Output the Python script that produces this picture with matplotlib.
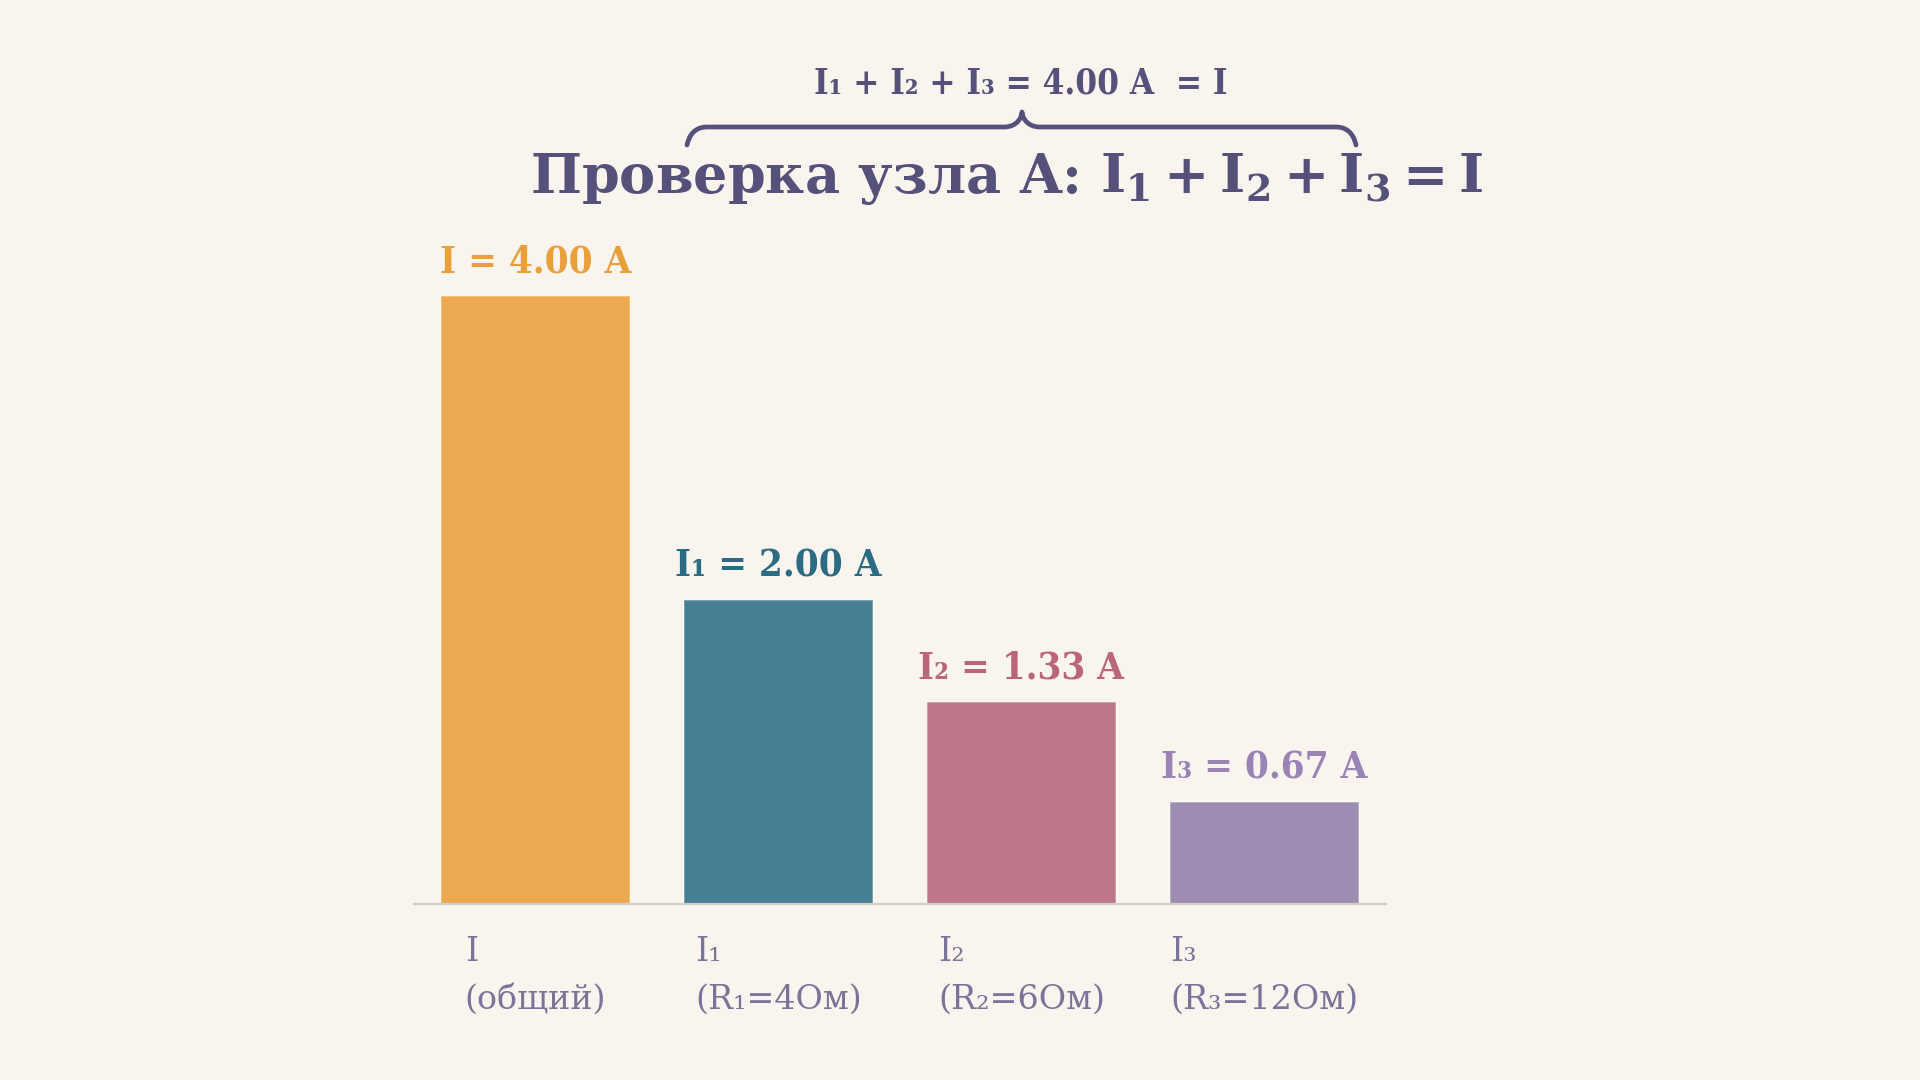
import numpy as np
import matplotlib
matplotlib.use("Agg")
import matplotlib.pyplot as plt
from matplotlib.path import Path
from matplotlib.patches import PathPatch

# данные: токи в ветвях узла A
names = ["I", "I₁", "I₂", "I₃"]
details = ["(общий)", "(R₁=4Ом)", "(R₂=6Ом)", "(R₃=12Ом)"]
currents = [4.00, 2.00, 1.33, 0.67]
bar_colors = ["#ECA94F", "#477E92", "#BE7789", "#9F8CB3"]
label_colors = ["#E9A03B", "#2C6B84", "#B9657C", "#9A83B5"]

title_color = "#55517A"
tick_color = "#7A7498"
bg = "#FAF4EE"

plt.rcParams["mathtext.fontset"] = "dejavuserif"


def main():
    fig = plt.figure(figsize=(19.2, 10.8), dpi=100, facecolor=bg)
    ax = fig.add_axes([0.2156, 0.16296, 0.50625, 0.6193])
    ax.set_facecolor(bg)

    x = np.arange(len(currents))
    ax.bar(x, currents, width=0.78, color=bar_colors,
           edgecolor=(1, 1, 1, 0.35), linewidth=1.2)
    ax.set_xlim(-0.5, 3.5)
    ax.set_ylim(0, 4.4)

    # подписи значений над столбцами
    for xi, v, n, c in zip(x, currents, names, label_colors):
        ax.annotate(f"{n} = {v:.2f} A", (xi, v), xytext=(0, 17),
                    textcoords="offset points", ha="center", va="baseline",
                    fontsize=27.5, fontweight="bold", color=c,
                    family="DejaVu Serif", fontstretch="condensed")

    ax.set_xticks(x)
    ax.set_xticklabels([f"{n}\n{d}" for n, d in zip(names, details)],
                       family="DejaVu Serif", fontsize=24, color=tick_color,
                       multialignment="left", linespacing=1.62)
    ax.tick_params(axis="x", length=0, pad=23)
    ax.set_yticks([])
    for s in ["left", "right", "top"]:
        ax.spines[s].set_visible(False)
    ax.spines["bottom"].set_color("#D3CDCC")
    ax.spines["bottom"].set_linewidth(1.6)

    W, H = 1920, 1080

    # заголовок
    fig.text(1007 / W, 1 - 193 / H,
             r"Проверка узла A: $\mathbf{I_1 + I_2 + I_3 = I}$",
             ha="center", va="baseline", fontsize=39, fontweight="bold",
             family="DejaVu Serif", color=title_color)

    # фигурная скобка и сумма над ней
    x0, x1, xm = 687, 1356, 1022
    yb, yl, yt = 145, 127, 112
    verts = [(x0, yb), (x0 + 4, yl), (x0 + 20, yl),
             (xm - 18, yl),
             (xm - 4, yl), (xm, yt + 4), (xm, yt),
             (xm, yt + 4), (xm + 4, yl), (xm + 18, yl),
             (x1 - 20, yl),
             (x1 - 4, yl), (x1, yb)]
    codes = [Path.MOVETO, Path.CURVE3, Path.CURVE3,
             Path.LINETO,
             Path.CURVE4, Path.CURVE4, Path.CURVE4,
             Path.CURVE4, Path.CURVE4, Path.CURVE4,
             Path.LINETO,
             Path.CURVE3, Path.CURVE3]
    verts = [(vx / W, 1 - vy / H) for vx, vy in verts]
    brace = PathPatch(Path(verts, codes), transform=fig.transFigure,
                      facecolor="none", edgecolor=title_color, lw=3.4,
                      capstyle="round", joinstyle="round")
    fig.patches.append(brace)

    fig.text(1021 / W, 1 - 93 / H,
             f"I₁ + I₂ + I₃ = {sum(currents[1:]):.2f} A  = I",
             ha="center", va="baseline", fontsize=25, fontweight="bold",
             family="DejaVu Serif", fontstretch="condensed", color=title_color)

    fig.savefig("out.png", dpi=100, facecolor=bg)


if __name__ == "__main__":
    main()
